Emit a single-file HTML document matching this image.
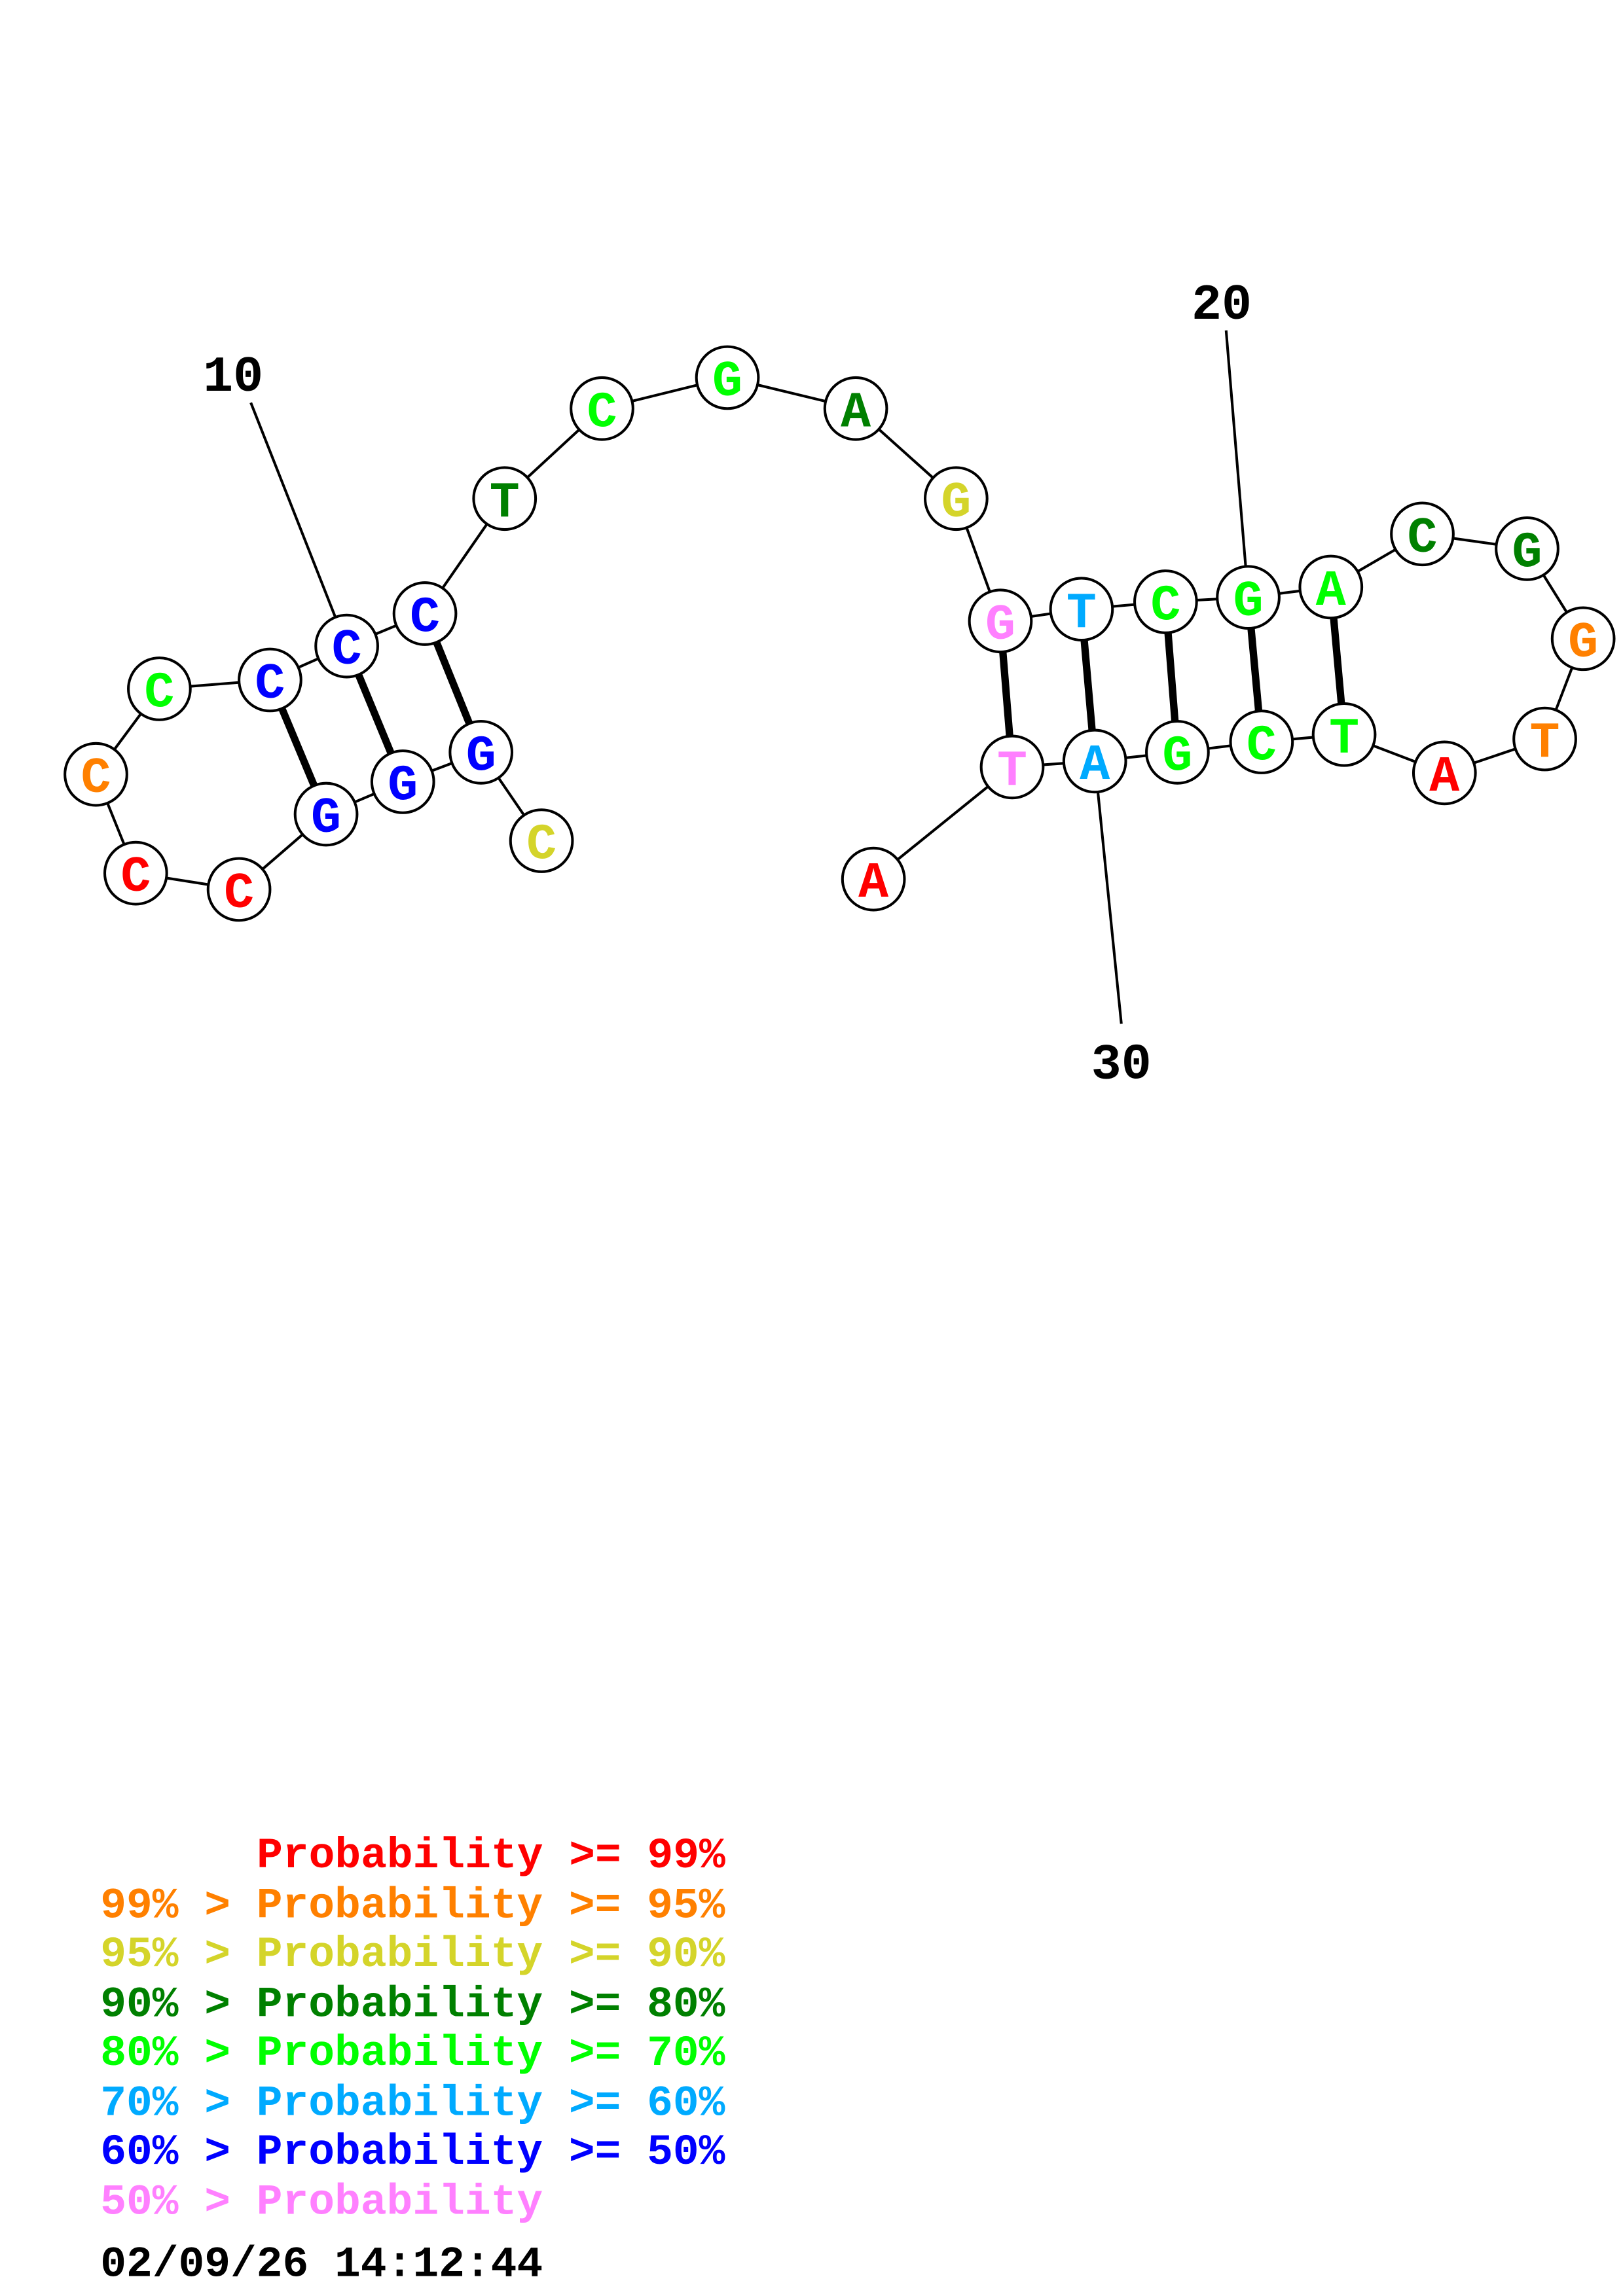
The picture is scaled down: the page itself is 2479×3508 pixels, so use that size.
<!DOCTYPE html>
<html><head><meta charset="utf-8"><style>html,body{margin:0;padding:0;background:#fff}svg{display:block}</style></head>
<body>
<svg width="2479" height="3508" viewBox="0 0 1100 1556.6" xmlns="http://www.w3.org/2000/svg" font-family="Liberation Mono, monospace" font-weight="bold">
<g stroke="#000" stroke-width="1.8" fill="none">
<polyline points="367,570 326,510 273,530 221,552 162,603 92,592 65,525 108,467 183,461 235,438 288,416 342,338 408,277 493,256 580,277 648,338 678,421 733,413 790,408 846,405 902,398 964,362 1035,372 1073,433 1047,501 979,524 911,498 855,503 798,510 742,516 686,520 592,596"/>
<line x1="170" y1="273" x2="235" y2="438"/>
<line x1="831" y1="224" x2="846" y2="405"/>
<line x1="760" y1="694" x2="742" y2="516"/>
</g>
<g stroke="#000" stroke-width="5">
<line x1="326" y1="510" x2="288" y2="416"/>
<line x1="273" y1="530" x2="235" y2="438"/>
<line x1="221" y1="552" x2="183" y2="461"/>
<line x1="678" y1="421" x2="686" y2="520"/>
<line x1="733" y1="413" x2="742" y2="516"/>
<line x1="790" y1="408" x2="798" y2="510"/>
<line x1="846" y1="405" x2="855" y2="503"/>
<line x1="902" y1="398" x2="911" y2="498"/>
</g>
<g stroke="#000" stroke-width="1.8" fill="#fff">
<circle cx="367" cy="570" r="21"/><circle cx="326" cy="510" r="21"/><circle cx="273" cy="530" r="21"/><circle cx="221" cy="552" r="21"/><circle cx="162" cy="603" r="21"/><circle cx="92" cy="592" r="21"/><circle cx="65" cy="525" r="21"/><circle cx="108" cy="467" r="21"/><circle cx="183" cy="461" r="21"/><circle cx="235" cy="438" r="21"/><circle cx="288" cy="416" r="21"/><circle cx="342" cy="338" r="21"/><circle cx="408" cy="277" r="21"/><circle cx="493" cy="256" r="21"/><circle cx="580" cy="277" r="21"/><circle cx="648" cy="338" r="21"/><circle cx="678" cy="421" r="21"/><circle cx="733" cy="413" r="21"/><circle cx="790" cy="408" r="21"/><circle cx="846" cy="405" r="21"/><circle cx="902" cy="398" r="21"/><circle cx="964" cy="362" r="21"/><circle cx="1035" cy="372" r="21"/><circle cx="1073" cy="433" r="21"/><circle cx="1047" cy="501" r="21"/><circle cx="979" cy="524" r="21"/><circle cx="911" cy="498" r="21"/><circle cx="855" cy="503" r="21"/><circle cx="798" cy="510" r="21"/><circle cx="742" cy="516" r="21"/><circle cx="686" cy="520" r="21"/><circle cx="592" cy="596" r="21"/>
</g>
<g font-size="34" text-anchor="middle">
<text x="367" y="582" fill="#d4d42a">C</text>
<text x="326" y="522" fill="#0000ff">G</text>
<text x="273" y="542" fill="#0000ff">G</text>
<text x="221" y="564" fill="#0000ff">G</text>
<text x="162" y="615" fill="#ff0000">C</text>
<text x="92" y="604" fill="#ff0000">C</text>
<text x="65" y="537" fill="#ff8000">C</text>
<text x="108" y="479" fill="#00ff00">C</text>
<text x="183" y="473" fill="#0000ff">C</text>
<text x="235" y="450" fill="#0000ff">C</text>
<text x="288" y="428" fill="#0000ff">C</text>
<text x="342" y="350" fill="#008000">T</text>
<text x="408" y="289" fill="#00ff00">C</text>
<text x="493" y="268" fill="#00ff00">G</text>
<text x="580" y="289" fill="#008000">A</text>
<text x="648" y="350" fill="#d4d42a">G</text>
<text x="678" y="433" fill="#ff80ff">G</text>
<text x="733" y="425" fill="#00aaff">T</text>
<text x="790" y="420" fill="#00ff00">C</text>
<text x="846" y="417" fill="#00ff00">G</text>
<text x="902" y="410" fill="#00ff00">A</text>
<text x="964" y="374" fill="#008000">C</text>
<text x="1035" y="384" fill="#008000">G</text>
<text x="1073" y="445" fill="#ff8000">G</text>
<text x="1047" y="513" fill="#ff8000">T</text>
<text x="979" y="536" fill="#ff0000">A</text>
<text x="911" y="510" fill="#00ff00">T</text>
<text x="855" y="515" fill="#00ff00">C</text>
<text x="798" y="522" fill="#00ff00">G</text>
<text x="742" y="528" fill="#00aaff">A</text>
<text x="686" y="532" fill="#ff80ff">T</text>
<text x="592" y="608" fill="#ff0000">A</text>
</g>
<g font-size="34" text-anchor="middle" fill="#000">
<text x="158" y="265">10</text>
<text x="828" y="216">20</text>
<text x="760" y="731">30</text>
</g>
<g font-size="29.4">
<text x="174" y="1266" fill="#ff0000">Probability &gt;= 99%</text>
<text x="68" y="1300" fill="#ff8000">99% &gt; Probability &gt;= 95%</text>
<text x="68" y="1333" fill="#d4d42a">95% &gt; Probability &gt;= 90%</text>
<text x="68" y="1367" fill="#008000">90% &gt; Probability &gt;= 80%</text>
<text x="68" y="1400" fill="#00ff00">80% &gt; Probability &gt;= 70%</text>
<text x="68" y="1434" fill="#00aaff">70% &gt; Probability &gt;= 60%</text>
<text x="68" y="1467" fill="#0000ff">60% &gt; Probability &gt;= 50%</text>
<text x="68" y="1501" fill="#ff80ff">50% &gt; Probability</text>
<text x="68" y="1543" fill="#000">02/09/26 14:12:44</text>
</g>
</svg>
</body></html>
